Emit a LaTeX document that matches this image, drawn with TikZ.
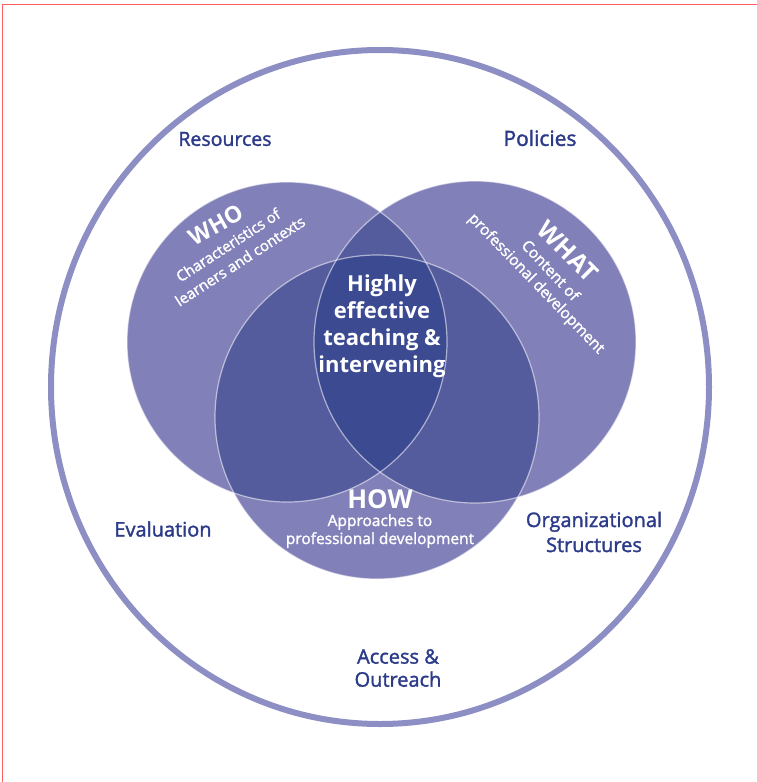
\documentclass[tikz,border=0pt]{standalone}
\usepackage{fontspec}
\setmainfont{Open Sans}
\newfontfamily\medf[FakeBold=1.6]{Open Sans}
\definecolor{cA}{RGB}{130,128,184}
\definecolor{cB}{RGB}{84,92,158}
\definecolor{cC}{RGB}{60,74,146}
\definecolor{ringc}{RGB}{141,143,196}
\definecolor{labc}{RGB}{44,58,138}
\definecolor{framec}{RGB}{255,95,95}
\tikzset{
  outerlab/.style={text=labc, align=center, inner sep=0pt},
  whitelab/.style={text=white, align=center, inner sep=0pt},
  edge/.style={draw=white, draw opacity=0.55, line width=1.2pt},
}
\begin{document}
\begin{tikzpicture}[x=1pt,y=-1pt]
\useasboundingbox (0,0) rectangle (757,782);
\fill[white] (0,0) rectangle (757,782);
% frame
\draw[framec, line width=1pt] (2,782) -- (2,4) -- (757,4);
% outer ring
\draw[ringc, line width=6pt] (380,387) ellipse [x radius=329, y radius=337];
% venn fills
\fill[cA] (287,342) circle (160);
\fill[cA] (475,342) circle (161);
\fill[cA] (377,417) circle (162);
\begin{scope}
  \clip (287,342) circle (160);
  \fill[cB] (475,342) circle (161);
  \fill[cB] (377,417) circle (162);
\end{scope}
\begin{scope}
  \clip (475,342) circle (161);
  \fill[cB] (377,417) circle (162);
\end{scope}
\begin{scope}
  \clip (287,342) circle (160);
  \clip (475,342) circle (161);
  \fill[cC] (377,417) circle (162);
\end{scope}
\draw[edge] (287,342) circle (160);
\draw[edge] (475,342) circle (161);
\draw[edge] (377,417) circle (162);
% outer labels
\node[outerlab, font=\medf\fontsize{19.5}{22}\selectfont] (res) at (225,139) {Resources};
\node[outerlab, font=\medf\fontsize{21}{24}\selectfont] (pol) at (540,138) {Policies};
\node[outerlab, font=\medf\fontsize{20}{23}\selectfont] (eva) at (163,529) {Evaluation};
\node[outerlab, font=\medf\fontsize{20}{25}\selectfont] (org) at (594,532) {Organizational\\Structures};
\node[outerlab, font=\medf\fontsize{20}{23}\selectfont] (acc) at (398,668) {Access \&\\Outreach};
% center
\node[whitelab, font=\bfseries\fontsize{22}{27}\selectfont] (ctr) at (382,326) {Highly\\effective\\teaching \&\\intervening};
% HOW
\node[whitelab, font=\bfseries\fontsize{26}{28}\selectfont] (how) at (380,499) {HOW};
\node[whitelab, font=\medf\fontsize{15.5}{18}\selectfont] (howt) at (380,531) {Approaches to\\professional development};
% WHO
\node[whitelab, font=\bfseries\fontsize{23}{26}\selectfont, rotate=29] (who) at (216,225) {WHO};
\node[whitelab, font=\medf\fontsize{15}{17}\selectfont, rotate=33] (whot1) at (228,245) {Characteristics of};
\node[whitelab, font=\medf\fontsize{15}{17}\selectfont, rotate=33] (whot2) at (240,261) {learners and contexts};
% WHAT
\node[whitelab, font=\bfseries\fontsize{25}{28}\selectfont, rotate=-45] (what) at (568,251) {WHAT};
\node[whitelab, font=\medf\fontsize{15.5}{18}\selectfont, rotate=-47] (whatt1) at (551,270) {Content of};
\node[whitelab, font=\medf\fontsize{15.5}{18}\selectfont, rotate=-46] (whatt2) at (536,284) {professional development};
\end{tikzpicture}
\end{document}
